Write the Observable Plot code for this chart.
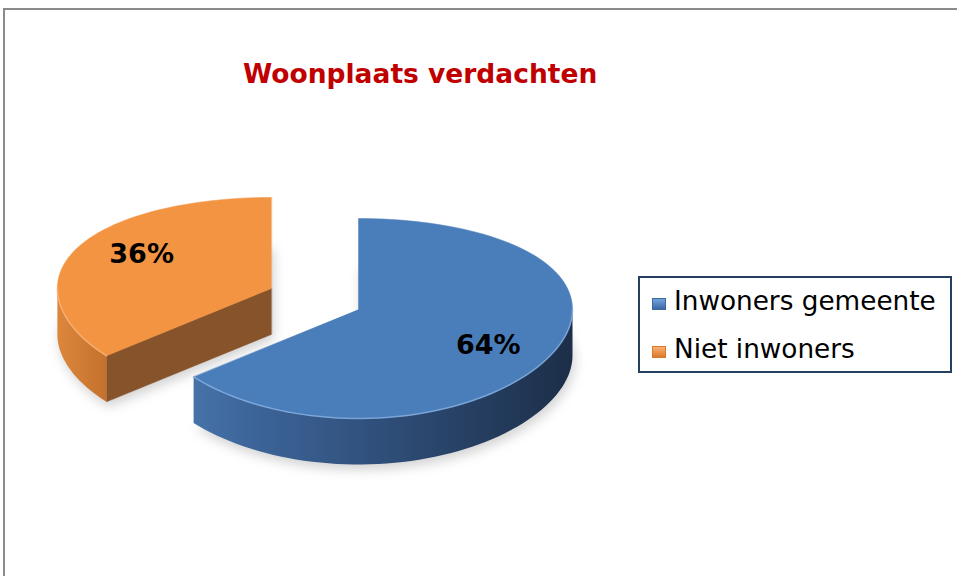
<!DOCTYPE html>
<html><head><meta charset="utf-8">
<script src="https://cdn.jsdelivr.net/npm/d3@7"></script>
<script src="https://cdn.jsdelivr.net/npm/@observablehq/plot@0.6"></script>
<style>
html,body{margin:0;padding:0;background:#fff;}
body{overflow:hidden;width:957px;height:576px;position:relative;font-family:"DejaVu Sans",Verdana,sans-serif;}
#frame{position:absolute;left:3px;top:8px;width:1400px;height:900px;border-left:2px solid #8a8a8a;border-top:2px solid #8a8a8a;}
#chart{position:absolute;left:0;top:0;}
#title{position:absolute;left:243px;top:61px;font-size:26.5px;line-height:1;font-weight:bold;color:#c00000;white-space:nowrap;}
#legend{position:absolute;left:638px;top:276px;width:314px;height:97px;box-sizing:border-box;border:2px solid #243f60;background:#fff;}
.item{position:absolute;left:0;font-size:26.3px;line-height:1;color:#000;white-space:nowrap;}
.sw{position:absolute;width:14px;height:12px;box-sizing:border-box;}
</style>
</head><body>
<div id="frame"></div>
<div id="chart"></div>
<div id="title"></div>
<div id="legend"></div>
<script>
// ---- data ----
const title = "Woonplaats verdachten";
const categories = ["Inwoners gemeente", "Niet inwoners"];
const values = [64, 36];
const labels = ["64%", "36%"];
const explode = [0, 0.45];
const topColors = ["#4a7ebb", "#f39443"];
const cutColors = ["#2a4670", "#87532a"];
const swatchColors = [["#74a3dc", "#3b68a3"], ["#fbb172", "#d9792d"]];

// ---- layout (pixels) ----
const W = 957, H = 576, CX = 358, CY = 309, RX = 214, RY = 100;
const depth = 0.46, warp = 0.09, N = 160;

document.getElementById("title").textContent = title;

const arcs = d3.pie().sort(null).value(d => d)(values);

function pt(c, a, r = 1, dz = 0) {
  const ux = r * Math.sin(a), uy = -r * Math.cos(a);
  return {x: c.x + ux, y: c.y + uy + warp * uy * uy + dz};
}
function arcPts(c, a0, a1, dz = 0) {
  const n = Math.max(2, Math.ceil(N * (a1 - a0) / (2 * Math.PI)));
  return d3.range(n + 1).map(k => pt(c, a0 + (a1 - a0) * k / n, 1, dz));
}

const slices = arcs.map((d, i) => {
  const mid = (d.startAngle + d.endAngle) / 2;
  const c = {x: Math.sin(mid) * explode[i], y: -Math.cos(mid) * explode[i] * 1.1};
  const a0 = d.startAngle, a1 = d.endAngle;
  const top = [c, ...arcPts(c, a0, a1)];
  const bottom = [{x: c.x, y: c.y + depth}, ...arcPts(c, a0, a1, depth)];
  const w0 = Math.max(a0, Math.PI / 2), w1 = Math.min(a1, 3 * Math.PI / 2);
  const wall = w1 > w0 ? [...arcPts(c, w0, w1), ...arcPts(c, w0, w1, depth).reverse()] : null;
  const front = w1 > w0 ? arcPts(c, w0, w1) : null;
  const cuts = [];
  if (Math.sin(a0) < -1e-6) { const p = pt(c, a0); cuts.push([c, p, {x: p.x, y: p.y + depth}, {x: c.x, y: c.y + depth}]); }
  if (Math.sin(a1) > 1e-6) { const p = pt(c, a1); cuts.push([c, p, {x: p.x, y: p.y + depth}, {x: c.x, y: c.y + depth}]); }
  const lx = 0.67 * Math.sin(mid), ly = -0.82 * Math.cos(mid);
  const label = {x: c.x + lx, y: c.y + ly + warp * ly * ly, text: labels[i]};
  return {i, mid, c, top, bottom, wall, front, cuts, label, order: -Math.cos(mid)};
}).sort((a, b) => a.order - b.order);

const marks = [];
// soft shadow
slices.forEach(s => {
  marks.push(Plot.line(s.bottom.map(p => ({x: p.x + 0.01, y: p.y + 0.05})), {x: "x", y: "y", fill: "#000", fillOpacity: 0.18, stroke: "none", curve: "linear-closed", imageFilter: "blur(6px)"}));
});
slices.forEach(s => {
  s.cuts.forEach(cp => marks.push(Plot.line(cp, {x: "x", y: "y", fill: cutColors[s.i], stroke: cutColors[s.i], strokeWidth: 0.5, curve: "linear-closed"})));
  if (s.wall) marks.push(Plot.line(s.wall, {x: "x", y: "y", fill: `url(#wall${s.i})`, stroke: "none", curve: "linear-closed"}));
  marks.push(Plot.line(s.top, {x: "x", y: "y", fill: topColors[s.i], stroke: topColors[s.i], strokeWidth: 0.5, curve: "linear-closed"}));
  if (s.front) marks.push(Plot.line(s.front, {x: "x", y: "y", stroke: s.i === 0 ? "#86afe0" : "#f9b37a", strokeWidth: 1.5, strokeOpacity: 0.8}));
});
marks.push(Plot.text(slices.map(s => s.label), {x: "x", y: "y", text: "text", fontSize: 27, fontWeight: "bold", fill: "#000", fontFamily: "DejaVu Sans"}));

const chart = Plot.plot({
  width: W, height: H, margin: 0,
  style: {background: "transparent", overflow: "visible"},
  x: {domain: [(0 - CX) / RX, (W - CX) / RX], range: [0, W], axis: null},
  y: {domain: [(0 - CY) / RY, (H - CY) / RY], range: [0, H], axis: null},
  marks
});
const defs = d3.select(chart).insert("defs", ":first-child");
const g0 = defs.append("linearGradient").attr("id", "wall0").attr("x1", 0).attr("x2", 1).attr("y1", 0).attr("y2", 0);
[[0, "#4672a8"], [0.15, "#3d659a"], [0.55, "#2d4b74"], [1, "#1c2e48"]].forEach(([o, c]) => g0.append("stop").attr("offset", o).attr("stop-color", c));
const g1 = defs.append("linearGradient").attr("id", "wall1").attr("x1", 0).attr("x2", 1).attr("y1", 0).attr("y2", 0);
[[0, "#dc873c"], [1, "#c4712d"]].forEach(([o, c]) => g1.append("stop").attr("offset", o).attr("stop-color", c));
document.getElementById("chart").appendChild(chart);

// legend
const legend = document.getElementById("legend");
categories.forEach((cat, i) => {
  const top = 10 + i * 47.5;
  const sw = document.createElement("div");
  sw.className = "sw";
  sw.style.left = "12px"; sw.style.top = (top + 10) + "px";
  sw.style.background = `linear-gradient(${swatchColors[i][0]}, ${swatchColors[i][1]})`;
  sw.style.border = `1px solid ${swatchColors[i][1]}`;
  legend.appendChild(sw);
  const it = document.createElement("div");
  it.className = "item";
  it.style.left = "34px"; it.style.top = top + "px";
  it.textContent = cat;
  legend.appendChild(it);
});
</script>
</body></html>
